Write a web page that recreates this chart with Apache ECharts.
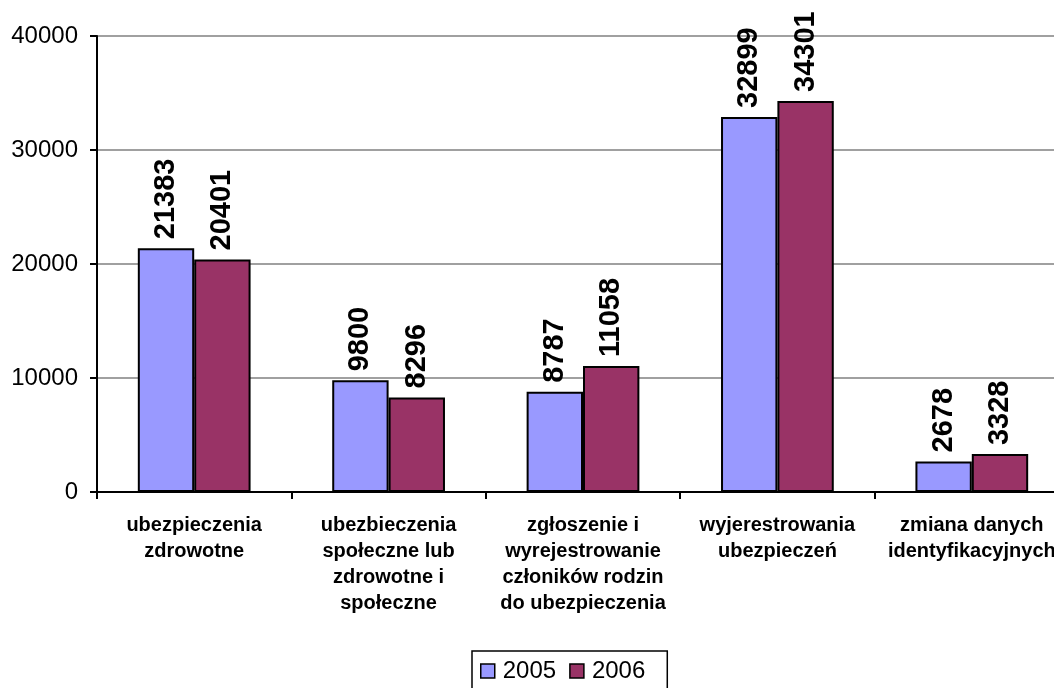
<!DOCTYPE html>
<html>
<head>
<meta charset="utf-8">
<script src="https://cdn.jsdelivr.net/npm/echarts@6/dist/echarts.min.js"></script>
<style>html,body{margin:0;padding:0;background:#fff}#c{width:1054px;height:688px}</style>
</head>
<body>
<div id="c"></div>
<script>
const categories = [
  "ubezpieczenia\nzdrowotne",
  "ubezbieczenia\nspołeczne lub\nzdrowotne i\nspołeczne",
  "zgłoszenie i\nwyrejestrowanie\nczłoników rodzin\ndo ubezpieczenia",
  "wyjerestrowania\nubezpieczeń",
  "zmiana danych\nidentyfikacyjnych"
];
const seriesNames = ["2005", "2006"];
const values2005 = [21383, 9800, 8787, 32899, 2678];
const values2006 = [20401, 8296, 11058, 34301, 3328];
const colors = ["#9999FF", "#993366"];
const FONT = "'Liberation Sans', Arial, sans-serif";

const chart = echarts.init(document.getElementById('c'), null, {renderer: 'canvas'});
const labelCfg = {
  show: true, position: 'top', rotate: 90, align: 'left', verticalAlign: 'middle',
  distance: 9, fontFamily: FONT, fontWeight: 'bold', fontSize: 29, color: '#000'
};
chart.setOption({
  animation: false,
  backgroundColor: '#fff',
  grid: {left: 97, top: 36, height: 456, width: 972, containLabel: false, outerBoundsMode: 'none'},
  legend: {
    left: 472, top: 651,
    data: seriesNames,
    icon: 'rect', itemWidth: 14, itemHeight: 14, itemGap: 13,
    padding: [8, 22, 30, 8],
    borderColor: '#000', borderWidth: 1.5,
    textStyle: {fontFamily: FONT, fontSize: 24, color: '#000', padding: [0, 0, 0, 3]},
    itemStyle: {borderColor: '#000', borderWidth: 1.5}
  },
  xAxis: {
    type: 'category', data: categories,
    axisLine: {lineStyle: {color: '#000', width: 2}},
    axisTick: {show: true, length: 7, lineStyle: {color: '#000', width: 2}},
    axisLabel: {interval: 0, fontFamily: FONT, fontWeight: 'bold', fontSize: 20, lineHeight: 26, color: '#000', margin: 20}
  },
  yAxis: {
    type: 'value', min: 0, max: 40000, interval: 10000,
    axisLine: {show: true, lineStyle: {color: '#000', width: 2}},
    axisTick: {show: true, length: 7, lineStyle: {color: '#000', width: 2}},
    axisLabel: {fontFamily: FONT, fontSize: 24, color: '#000', margin: 19, formatter: v => String(v)},
    splitLine: {lineStyle: {color: '#a0a0a0', width: 2}}
  },
  series: [
    {name: seriesNames[0], type: 'bar', data: values2005, barGap: '0%', barCategoryGap: '42%',
     itemStyle: {color: colors[0], borderColor: '#000', borderWidth: 2}, label: labelCfg},
    {name: seriesNames[1], type: 'bar', data: values2006, barGap: '0%', barCategoryGap: '42%',
     itemStyle: {color: colors[1], borderColor: '#000', borderWidth: 2}, label: labelCfg}
  ]
});
</script>
</body>
</html>
